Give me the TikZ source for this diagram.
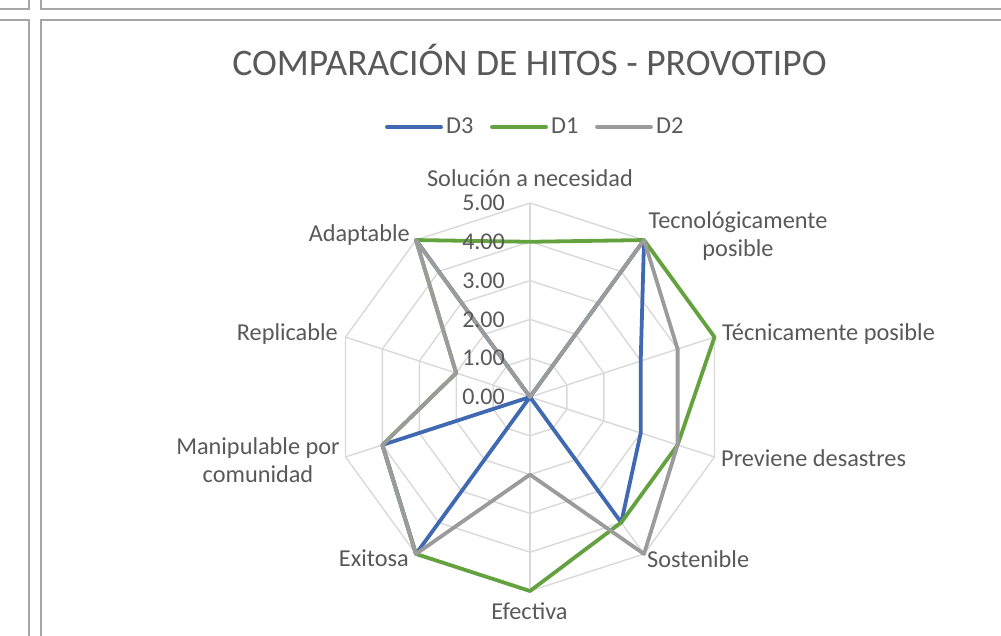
\documentclass[tikz,border=0pt]{standalone}
\usepackage{fontspec}
\setmainfont{Carlito}
\definecolor{labgray}{HTML}{595959}
\definecolor{gridgray}{HTML}{D9D9D9}
\definecolor{framegray}{HTML}{A6A6A6}
\definecolor{dthree}{HTML}{4169B2}
\definecolor{done}{HTML}{64A23F}
\definecolor{dtwo}{HTML}{9B9B9B}
\begin{document}
\begin{tikzpicture}[x=1pt,y=-1pt,
  lab/.style={text=labgray, font=\fontsize{24.3}{28}\selectfont, inner sep=0pt},
  tick/.style={text=labgray, font=\fontsize{24}{28}\selectfont, inner sep=0pt},
  ttl/.style={text=labgray, font=\fontsize{37.5}{44}\selectfont, inner sep=0pt},
  gridline/.style={draw=gridgray, line width=1.4pt},
  frameline/.style={draw=framegray, line width=1.5pt},
  series/.style={line width=3.8pt, line join=round, line cap=round}]
\useasboundingbox (0,0) rectangle (1001,636);
% sheet cell borders
\draw[frameline] (0,9) -- (29,9) -- (29,0);
\draw[frameline] (41,0) -- (41,9) -- (1001,9);
\draw[frameline] (0,20) -- (29,20) -- (29,636);
\draw[frameline] (1001,20) -- (41,20) -- (41,636);
% title
\node[ttl, anchor=base] (title) at (529.5,76) {COMPARACIÓN DE HITOS - PROVOTIPO};
% legend
\coordinate (l3a) at (387,127); \coordinate (l3b) at (441,127);
\coordinate (l1a) at (492,127); \coordinate (l1b) at (546,127);
\coordinate (l2a) at (597,127); \coordinate (l2b) at (651,127);
\draw[series, draw=dthree] (l3a) -- (l3b);
\draw[series, draw=done] (l1a) -- (l1b);
\draw[series, draw=dtwo] (l2a) -- (l2b);
\node[lab, anchor=mid west] (k3) at (446,131) {D3};
\node[lab, anchor=mid west] (k1) at (551,131) {D1};
\node[lab, anchor=mid west] (k2) at (656,131) {D2};
% grid
\coordinate (C) at (530,397);
\foreach \l in {1,...,5}{
  \draw[gridline] plot[samples at={0,36,...,324}] ({530+38.8*\l*sin(\x)},{397-38.8*\l*cos(\x)}) -- cycle;
}
\foreach \i in {0,...,9}{
  \coordinate (A\i) at ({530+194*sin(36*\i)},{397-194*cos(36*\i)});
  \draw[gridline] (C) -- (A\i);
}
% series points
\foreach \v [count=\i from 0] in {0,5,3,3,4,0,5,4,0,5}
  \coordinate (b\i) at ({530+38.8*\v*sin(36*\i)},{397-38.8*\v*cos(36*\i)});
\foreach \v [count=\i from 0] in {4,5,5,4,4,5,5,4,2,5}
  \coordinate (g\i) at ({530+38.8*\v*sin(36*\i)},{397-38.8*\v*cos(36*\i)});
\foreach \v [count=\i from 0] in {0,5,4,4,5,2,5,4,2,5}
  \coordinate (r\i) at ({530+38.8*\v*sin(36*\i)},{397-38.8*\v*cos(36*\i)});
\draw[series, draw=dthree] (b0) -- (b1) -- (b2) -- (b3) -- (b4) -- (b5) -- (b6) -- (b7) -- (b8) -- (b9) -- cycle;
\draw[series, draw=done] (g0) -- (g1) -- (g2) -- (g3) -- (g4) -- (g5) -- (g6) -- (g7) -- (g8) -- (g9) -- cycle;
\draw[series, draw=dtwo] (r0) -- (r1) -- (r2) -- (r3) -- (r4) -- (r5) -- (r6) -- (r7) -- (r8) -- (r9) -- cycle;
% tick labels
\foreach \i in {0,...,5}
  \node[tick, anchor=east] (t\i) at (505,{397-38.8*\i}) {\i.00};
% axis labels
\node[lab, anchor=mid] (sol) at (530,184) {Solución a necesidad};
\node[lab, anchor=center, align=center] (tec) at (738,236) {Tecnológicamente\\posible};
\node[lab, anchor=mid west] (tcn) at (722,338) {Técnicamente posible};
\node[lab, anchor=mid west] (prev) at (721,464) {Previene desastres};
\node[lab, anchor=mid west] (sost) at (647,565) {Sostenible};
\node[lab, anchor=mid] (efec) at (529.5,617) {Efectiva};
\node[lab, anchor=mid east] (exit) at (409,564) {Exitosa};
\node[lab, anchor=center, align=center] (manip) at (258,460) {Manipulable por\\comunidad};
\node[lab, anchor=mid east] (repl) at (338,338) {Replicable};
\node[lab, anchor=mid east] (adap) at (410,239) {Adaptable};
\end{tikzpicture}
\end{document}
